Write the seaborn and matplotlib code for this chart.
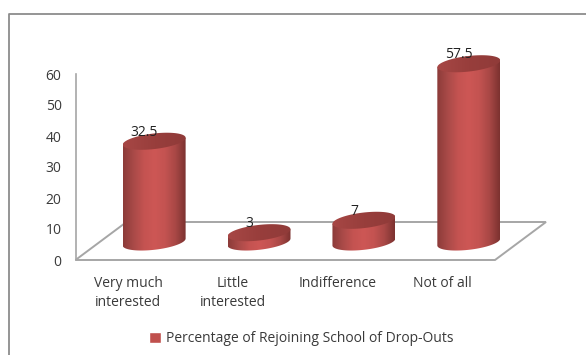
import numpy as np
import pandas as pd
import matplotlib
matplotlib.use("Agg")
import matplotlib.pyplot as plt
from matplotlib.colors import LinearSegmentedColormap
from matplotlib.lines import Line2D
from matplotlib.patches import Polygon, Rectangle
import seaborn as sns

categories = ["Very much\ninterested", "Little\ninterested", "Indifference", "Not of all"]
values = [32.5, 3, 7, 57.5]
value_labels = ["32.5", "3", "7", "57.5"]
series_name = "Percentage of Rejoining School of Drop-Outs"
y_ticks = [0, 10, 20, 30, 40, 50, 60]

W, H = 586, 355
AX_L, AX_R, AX_B, AX_T = 75.5, 495.0, 260.0, 74.0   # pixel frame of the front plane
DEPTH_X, DEPTH_Y = 51.0, 38.0                        # floor depth in pixels

sns.set_theme(style="white")
plt.rcParams["font.family"] = ["Open Sans", "DejaVu Sans"]
TXT = "#3a3a3a"

fig = plt.figure(figsize=(W / 100, H / 100), dpi=100, facecolor="white")
ax = fig.add_axes([AX_L / W, 1 - AX_B / H, (AX_R - AX_L) / W, (AX_B - AX_T) / H])
ax.patch.set_alpha(0)

df = pd.DataFrame({"category": categories, "value": values})
px_y = (AX_B - AX_T) / 60.0
px_x = (AX_R - AX_L) / 4.0
base_units = 18.0 / px_y

sns.barplot(data=df, x="category", y="value", color="#c0504d", width=0.6, ax=ax,
            bottom=base_units, label=series_name, saturation=1)
ax.set_xlim(-0.5, 3.5)
ax.set_ylim(0, 60)
ax.set_xlabel("")
ax.set_ylabel("")
ax.set_yticks(y_ticks)
ax.tick_params(axis="both", length=0, labelsize=10, labelcolor=TXT)
ax.tick_params(axis="x", pad=11.5)
ax.tick_params(axis="y", pad=10)
for lab in ax.get_xticklabels():
    lab.set_linespacing(1.4)
sns.despine(ax=ax, top=True, right=True, bottom=True, left=False)
ax.spines["left"].set_color("#a6a6a6")
ax.spines["left"].set_linewidth(1.2)

# floor of the 3-D plot
dx, dy = DEPTH_X / px_x, DEPTH_Y / px_y
floor = Polygon([(-0.5, 0), (3.5, 0), (3.5 + dx, dy), (-0.5 + dx, dy)], closed=True,
                fill=False, edgecolor="#a6a6a6", lw=1.4, clip_on=False, zorder=0.5)
ax.add_patch(floor)

body_cmap = LinearSegmentedColormap.from_list(
    "body", ["#8c3b39", "#a94a48", "#c45351", "#cd5755", "#c45351", "#a94846", "#7c3230"])
top_cmap = LinearSegmentedColormap.from_list(
    "top", ["#a74745", "#983e3c", "#903b39"])
grad = np.linspace(0, 1, 128).reshape(1, -1)

t = np.linspace(0, 2 * np.pi, 120)
for patch, val, txt in zip(list(ax.patches)[:len(values)], values, value_labels):
    patch.set_visible(False)
    cx = patch.get_x() + patch.get_width() / 2 + 0.25
    hw = patch.get_width() / 2
    y0 = patch.get_y()
    y1 = y0 + patch.get_height()
    a_px = hw * px_x
    ex = hw * np.cos(t)
    ey = (7.8 * np.sin(t) + 0.11 * a_px * np.cos(t)) / px_y

    # body: bottom half of the lower ellipse joined to the upper ellipse
    lower = (t >= np.pi)
    bx = np.r_[cx + ex[lower], cx + hw, cx - hw]
    by = np.r_[y0 + ey[lower], y1 + 0.11 * a_px / px_y, y1 - 0.11 * a_px / px_y]
    poly = Polygon(np.c_[bx, by], closed=True, transform=ax.transData,
                   facecolor="none", edgecolor="none", clip_on=False)
    ax.add_patch(poly)
    im = ax.imshow(grad, extent=[cx - hw, cx + hw, y0 - 4, y1 + 4], aspect="auto",
                   cmap=body_cmap, zorder=2)
    im.set_clip_on(True)
    im.set_clip_box(fig.bbox)
    im.set_clip_path(poly)

    cap = Polygon(np.c_[cx + ex, y1 + ey], closed=True, transform=ax.transData,
                  facecolor="none", edgecolor="none", clip_on=False)
    ax.add_patch(cap)
    im2 = ax.imshow(grad, extent=[cx - hw, cx + hw, y1 - 4, y1 + 4], aspect="auto",
                    cmap=top_cmap, zorder=3)
    im2.set_clip_on(True)
    im2.set_clip_box(fig.bbox)
    im2.set_clip_path(cap)

    ax.text(cx - 10 / px_x, y1 + 9 / px_y, txt, ha="center", va="center", fontsize=10,
            color="#222222", zorder=5, clip_on=False)

ax.set_xlim(-0.5, 3.5)
ax.set_ylim(0, 60)

# legend
handle = Rectangle((0, 0), 1, 1, facecolor="#c0504d")
fig.legend([handle], [series_name], loc="center", bbox_to_anchor=(301 / W, 1 - 339 / H),
           frameon=False, fontsize=10, labelcolor=TXT, handlelength=0.85, handleheight=0.85,
           handletextpad=0.35)
if ax.get_legend():
    ax.get_legend().remove()

# outer frame, open on the right and at the bottom
fig.add_artist(Line2D([9 / W, 9 / W, 1], [0, 1 - 14 / H, 1 - 14 / H], color="#8c8c8c", lw=1.3))

fig.savefig("out.png", dpi=100, facecolor="white")
